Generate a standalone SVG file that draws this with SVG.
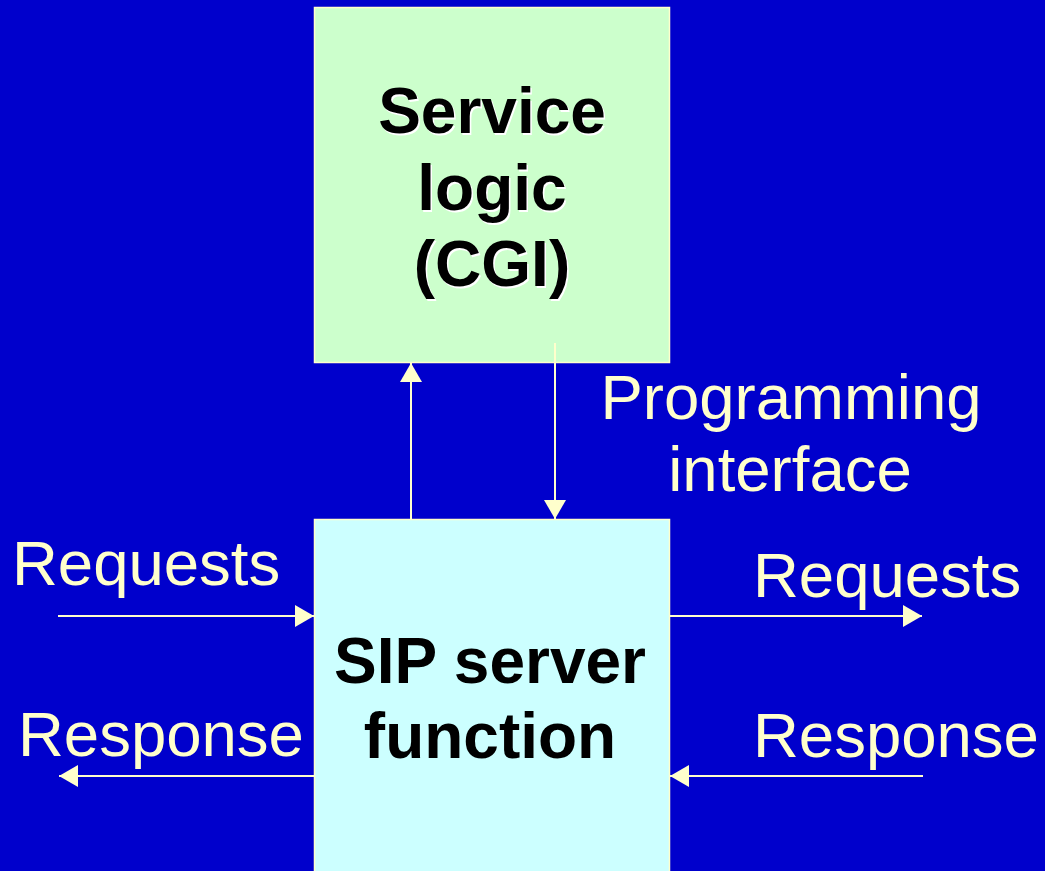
<svg xmlns="http://www.w3.org/2000/svg" width="1045" height="871" viewBox="0 0 1045 871">
  <style>
    .box { stroke: #FFFFCC; stroke-width: 1.5; }
    .title { font-family: "Liberation Sans", Arial, sans-serif; font-weight: bold; font-size: 64px; text-anchor: middle; fill: #000000; }
    .shadow { fill: #FFFFFF; }
    .label { font-family: "Liberation Sans", Arial, sans-serif; font-size: 63.5px; fill: #FFFFCC; }
    .wire { stroke: #FFFFCC; stroke-width: 2; fill: none; }
  </style>
  <defs>
    <marker id="head" viewBox="0 0 19 22" refX="19" refY="11" markerWidth="19" markerHeight="22" markerUnits="userSpaceOnUse" orient="auto">
      <path d="M0,0 L19,11 L0,22 Z" fill="#FFFFCC"/>
    </marker>
  </defs>

  <rect width="1045" height="871" fill="#0000CC"/>

  <!-- service logic block -->
  <g id="service-logic">
    <rect class="box" x="314.5" y="7.5" width="355" height="355" fill="#CCFFCC"/>
    <g class="title shadow" transform="translate(1.5,1.5)">
      <text x="492" y="133">Service</text>
      <text x="492" y="210">logic</text>
      <text x="492" y="286">(CGI)</text>
    </g>
    <g class="title">
      <text x="492" y="133">Service</text>
      <text x="492" y="210">logic</text>
      <text x="492" y="286">(CGI)</text>
    </g>
  </g>

  <!-- SIP server block -->
  <g id="sip-server">
    <rect class="box" x="314.5" y="519.5" width="355" height="360" fill="#CCFFFF"/>
    <g class="title">
      <text x="490" y="683">SIP server</text>
      <text x="490" y="758">function</text>
    </g>
  </g>

  <!-- connectors -->
  <g id="connectors">
    <line class="wire" x1="411" y1="519" x2="411" y2="363" marker-end="url(#head)"/>
    <line class="wire" x1="555" y1="343" x2="555" y2="519" marker-end="url(#head)"/>
    <line class="wire" x1="58" y1="616" x2="314" y2="616" marker-end="url(#head)"/>
    <line class="wire" x1="314" y1="776" x2="59" y2="776" marker-end="url(#head)"/>
    <line class="wire" x1="670" y1="616" x2="922" y2="616" marker-end="url(#head)"/>
    <line class="wire" x1="923" y1="776" x2="670" y2="776" marker-end="url(#head)"/>
  </g>

  <!-- labels -->
  <g id="labels" class="label">
    <text x="791" y="419" text-anchor="middle">Programming</text>
    <text x="790" y="491" text-anchor="middle">interface</text>
    <text x="12" y="585">Requests</text>
    <text x="18" y="756">Response</text>
    <text x="753" y="597">Requests</text>
    <text x="753" y="757">Response</text>
  </g>
</svg>
